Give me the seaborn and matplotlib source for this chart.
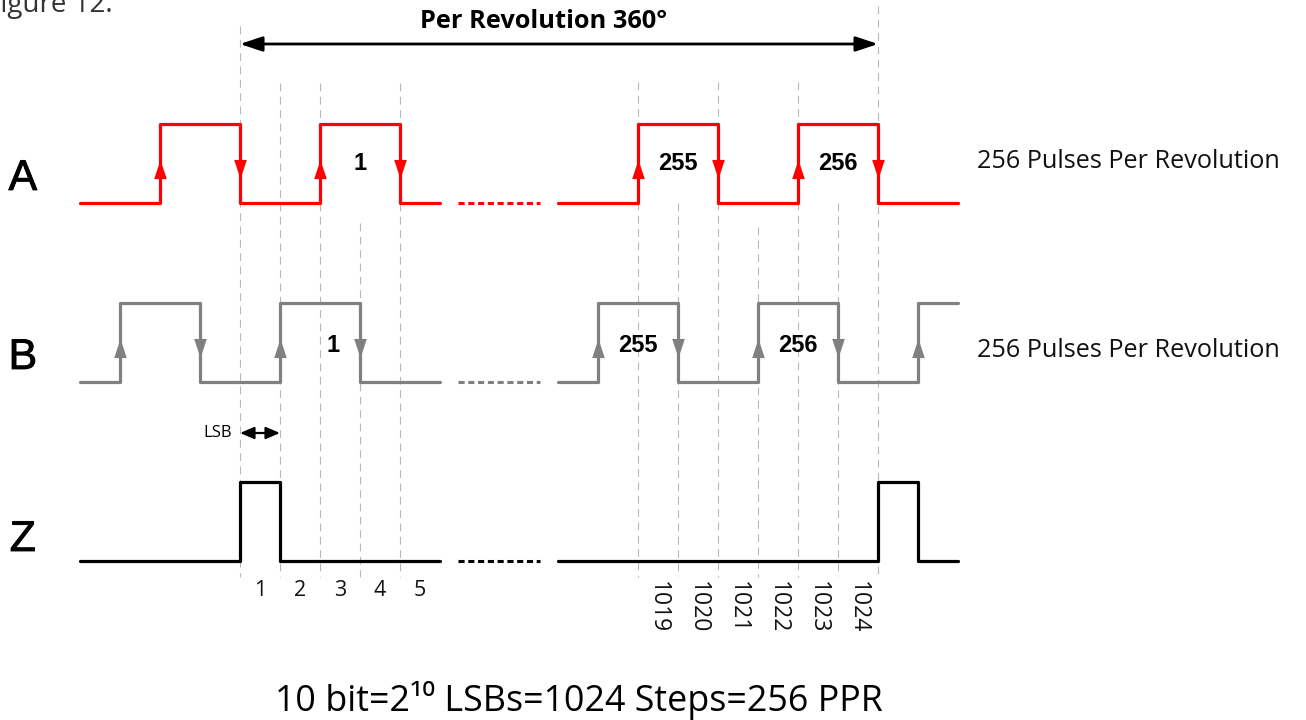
import numpy as np
import pandas as pd
import seaborn as sns
import matplotlib
matplotlib.use('Agg')
from matplotlib import pyplot as plt
from matplotlib import patheffects as pe

sns.set_theme(style='white')
plt.rcParams['font.family'] = ['Open Sans', 'DejaVu Sans']

# edge times in LSB steps: first = segment start, last = segment end,
# everything in between is a toggle (signal starts low)
a_left = [-4, -2, 0, 2, 4, 5]
a_right = [1016, 1018, 1020, 1022, 1024, 1026]
b_left = [-4, -3, -1, 1, 3, 5]
b_right = [1016, 1017, 1019, 1021, 1023, 1025, 1026]
z_left = [-4, 0, 1, 5]
z_right = [1016, 1024, 1025, 1026]

step_left = [1, 2, 3, 4, 5]
step_right = [1019, 1020, 1021, 1022, 1023, 1024]

a_pulse_names = ['1', '255', '256']
a_pulse_at = [3, 1019, 1023]
b_pulse_names = ['1', '255', '256']
b_pulse_at = [2.33, 1018, 1022]

grid_steps = [0, 1, 2, 3, 4, 1018, 1019, 1020, 1021, 1022, 1023, 1024]

# layout (pixels, y downwards)
W, H = 1306, 720
X0, STEP = 240, 40          # pixel of step 0, pixels per step
RIGHT_SHIFT = 1008.05       # steps >= 1000 are drawn at step - RIGHT_SHIFT
levels = {'A': (203, 124), 'B': (382, 303), 'Z': (561, 482)}
colors = {'A': '#ff0000', 'B': '#808080', 'Z': '#000000'}
grid_top = {0: 26, 1: 83, 2: 83, 3: 223, 4: 83, 1018: 82, 1019: 203,
            1020: 82, 1021: 227, 1022: 82, 1023: 203, 1024: 6}
grid_bottom = 577


def pos(t):
    t = np.asarray(t, dtype=float)
    return np.where(t >= 1000, t - RIGHT_SHIFT, t)


def wave(times):
    xs, lv = [], []
    level = 0
    xs.append(times[0]); lv.append(level)
    for t in times[1:-1]:
        xs.append(t); lv.append(level)
        level = 1 - level
        xs.append(t); lv.append(level)
    xs.append(times[-1]); lv.append(level)
    return xs, lv


rows = []
arrows = []
signals = {'A': [a_left, a_right], 'B': [b_left, b_right], 'Z': [z_left, z_right]}
for ch, segs in signals.items():
    low, high = levels[ch]
    for k, times in enumerate(segs):
        xs, lv = wave(times)
        for x, l in zip(xs, lv):
            rows.append({'ch': ch, 'seg': f'{ch}{k}', 'x': float(pos(x)),
                         'y': low - (low - high) * l})
        if ch != 'Z':
            level = 0
            for t in times[1:-1]:
                level = 1 - level
                arrows.append({'ch': ch, 'x': float(pos(t)),
                               'y': (low + high) / 2 + 5, 'up': level == 1})
df = pd.DataFrame(rows)
arr = pd.DataFrame(arrows)

fig = plt.figure(figsize=(W / 100, H / 100), dpi=100)
ax = fig.add_axes([0, 0, 1, 1])
ax.set_xlim(-X0 / STEP, (W - X0) / STEP)
ax.set_ylim(H, 0)
ax.axis('off')

# dashed step grid
for g in grid_steps:
    ax.vlines(float(pos(g)), grid_top[g], grid_bottom, colors='#b8b8b8',
              lw=0.8, linestyles=(0, (7, 5)), zorder=1)

sns.lineplot(data=df, x='x', y='y', hue='ch', units='seg', estimator=None,
             sort=False, palette=colors, legend=False, lw=2.3, ax=ax, zorder=3)

# dotted gaps
gap = [(458 - X0) / STEP, (540 - X0) / STEP]
for ch in 'ABZ':
    ax.plot(gap, [levels[ch][0]] * 2, color=colors[ch], lw=2.2,
            linestyle=(0, (2.0, 1.2)), zorder=3)

up_mark = [(-0.33, -0.5), (0.33, -0.5), (0, 0.5)]
dn_mark = [(-0.33, 0.5), (0.33, 0.5), (0, -0.5)]
for ch in 'AB':
    for up, mk in [(True, up_mark), (False, dn_mark)]:
        sub = arr[(arr.ch == ch) & (arr.up == up)]
        sns.scatterplot(data=sub, x='x', y='y', marker=mk, s=190,
                        color=colors[ch], linewidth=0, ax=ax, zorder=4)

# channel names
thick = [pe.withStroke(linewidth=0.6, foreground='black')]
for ch, yy in zip('ABZ', [179, 358, 540]):
    ax.text(-5.43, yy, ch, fontsize=31, family='Liberation Sans',
            ha='center', va='center', color='black', path_effects=thick)

# pulse numbers
for names, at, yy in [(a_pulse_names, a_pulse_at, 164), (b_pulse_names, b_pulse_at, 346)]:
    for n, t in zip(names, at):
        ax.text(float(pos(t)), yy, n, fontsize=17, family='Liberation Sans',
                fontweight='bold', ha='center', va='center', color='black')

for yy in [162, 350]:
    fig.text(977 / W, 1 - yy / H, '256 Pulses Per Revolution', fontsize=18.2,
             ha='left', va='center', color='#111111')

# step numbers
for s in step_left:
    ax.text(float(pos(s)) - 0.5, 590, str(s), fontsize=15.5, ha='center',
            va='center', color='#111111')
for s in step_right:
    ax.text(float(pos(s)) - 0.5, 581, str(s), fontsize=16.5, ha='center',
            va='top', rotation=270, color='#111111')

# arrows
ax.annotate('', xy=(float(pos(1024)), 44), xytext=(0, 44),
            arrowprops=dict(arrowstyle='<|-|>,head_length=0.9,head_width=0.3',
                            lw=2, color='black', mutation_scale=15,
                            shrinkA=0, shrinkB=0))
ax.annotate('', xy=(1, 433), xytext=(0, 433),
            arrowprops=dict(arrowstyle='<|-|>,head_length=0.7,head_width=0.3',
                            lw=1.6, color='black', mutation_scale=12,
                            shrinkA=0, shrinkB=0))
ax.text(-0.2, 433, 'LSB', fontsize=12, ha='right', va='center', color='black')

fig.text(544 / W, 1 - 22 / H, 'Per Revolution 360°', fontsize=18.3,
         fontweight='bold', ha='center', va='center', color='black')
fig.text(-14 / W, 1 - 12 / H, 'Figure 12.', fontsize=20, ha='left',
         va='baseline', color='#333333')
fig.text(579 / W, 1 - 700 / H, '10 bit=2¹⁰ LSBs=1024 Steps=256 PPR',
         fontsize=25.8, ha='center', va='center', color='black')

fig.savefig('out.png', dpi=100)
